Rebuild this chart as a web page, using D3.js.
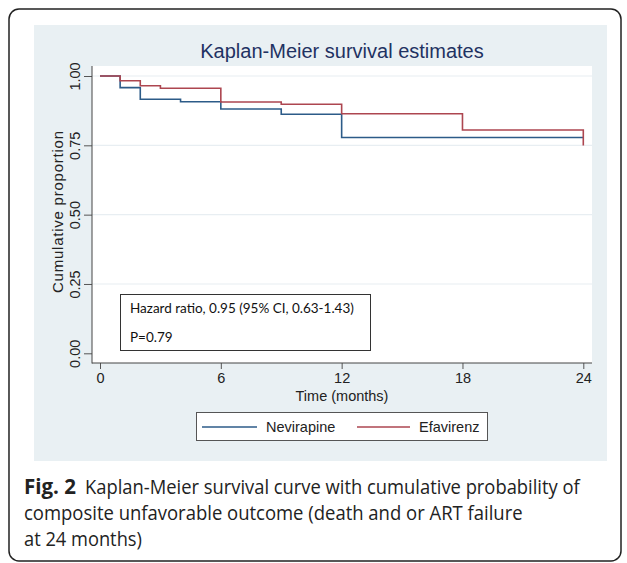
<!DOCTYPE html>
<html>
<head>
<meta charset="utf-8">
<script src="https://cdn.jsdelivr.net/npm/d3@7"></script>
<style>
  html, body { margin: 0; padding: 0; background: #ffffff; }
  svg { display: block; }
</style>
</head>
<body>
<svg id="chart" width="627" height="563"></svg>
<script>
// ---- data ----
const monthsNevirapine = [0, 1, 2, 4, 6, 9, 12, 24];
const survNevirapine   = [1.00, 0.958, 0.916, 0.907, 0.881, 0.862, 0.778, 0.778];
const monthsEfavirenz  = [0, 1, 2, 3, 6, 9, 12, 18, 24, 24];
const survEfavirenz    = [1.00, 0.983, 0.965, 0.956, 0.906, 0.898, 0.864, 0.805, 0.805, 0.749];
const seriesNames = ["Nevirapine", "Efavirenz"];
const xTicks = [0, 6, 12, 18, 24];
const yTicks = [0, 0.25, 0.50, 0.75, 1.00];
const titleText = "Kaplan-Meier survival estimates";
const xTitle = "Time (months)";
const yTitle = "Cumulative proportion";
const annotLines = ["Hazard ratio, 0.95 (95% CI, 0.63-1.43)", "P=0.79"];
const captionBold = "Fig. 2";
const captionLines = [
  "Kaplan-Meier survival curve with cumulative probability of",
  "composite unfavorable outcome (death and or ART failure",
  "at 24 months)"
];

// ---- layout ----
const svg = d3.select("#chart");
const colors = ["#2c5b88", "#ad4650"];
const plot = { left: 92, right: 592, top: 66, bottom: 363 };
const x = d3.scaleLinear().domain([0, 24]).range([100, 583.3]);
const y = d3.scaleLinear().domain([0, 1]).range([353.3, 76]);
const sans = "'Liberation Sans', Arial, sans-serif";

// helper: squeeze a text horizontally to a target width
function fitWidth(sel, x0, y0, target) {
  sel.each(function() {
    const w = this.getComputedTextLength();
    const s = Math.min(1, target / w);
    d3.select(this).attr("x", null).attr("y", null)
      .attr("transform", `translate(${x0},${y0}) scale(${s},1)`);
  });
}

// outer rounded frame
svg.append("rect").attr("x", 9).attr("y", 9).attr("width", 612).attr("height", 552)
  .attr("rx", 10).attr("fill", "#fff").attr("stroke", "#222").attr("stroke-width", 1.5);

// graph region background
svg.append("rect").attr("x", 34).attr("y", 25).attr("width", 573).attr("height", 436)
  .attr("fill", "#e9f0f3");

// plot region
svg.append("rect").attr("x", plot.left).attr("y", plot.top)
  .attr("width", plot.right - plot.left).attr("height", plot.bottom - plot.top)
  .attr("fill", "#fff");

// gridlines
svg.append("g").selectAll("line").data(yTicks.filter(d => d > 0)).join("line")
  .attr("x1", plot.left).attr("x2", plot.right)
  .attr("y1", d => y(d)).attr("y2", d => y(d))
  .attr("stroke", "#e8eef2").attr("stroke-width", 1.2);

// title
svg.append("text").attr("x", 342).attr("y", 58).attr("text-anchor", "middle")
  .attr("font-family", sans).attr("font-size", 20).attr("fill", "#1f3262")
  .text(titleText);

// axes
const xAxis = svg.append("g").attr("transform", `translate(0,${plot.bottom})`)
  .call(d3.axisBottom(x).tickValues(xTicks).tickSize(6).tickPadding(4).tickFormat(d3.format("d")));
xAxis.select(".domain").remove();
xAxis.selectAll("line").attr("stroke", "#555");
xAxis.selectAll("text").attr("font-family", sans).attr("font-size", 14.5).attr("fill", "#222");

const yAxis = svg.append("g").attr("transform", `translate(${plot.left},0)`)
  .call(d3.axisLeft(y).tickValues(yTicks).tickSize(8).tickFormat(d3.format(".2f")));
yAxis.select(".domain").remove();
yAxis.selectAll("line").attr("stroke", "#555");
yAxis.selectAll("text")
  .attr("font-family", sans).attr("font-size", 14.5).attr("fill", "#222")
  .attr("x", null).attr("dy", null)
  .attr("text-anchor", "middle")
  .attr("transform", "translate(-12,0) rotate(-90)");

// axis lines
svg.append("line").attr("x1", plot.left).attr("x2", plot.left).attr("y1", plot.top).attr("y2", plot.bottom + 0.5)
  .attr("stroke", "#444").attr("stroke-width", 1);
svg.append("line").attr("x1", plot.left).attr("x2", plot.right).attr("y1", plot.bottom).attr("y2", plot.bottom)
  .attr("stroke", "#444").attr("stroke-width", 1);

// axis titles
svg.append("text").attr("x", 342).attr("y", 401).attr("text-anchor", "middle")
  .attr("font-family", sans).attr("font-size", 14.5).attr("fill", "#222").text(xTitle);
svg.append("text").attr("transform", "translate(63,212) rotate(-90)").attr("text-anchor", "middle")
  .attr("font-family", sans).attr("font-size", 15).attr("fill", "#222")
  .attr("textLength", 162).attr("lengthAdjust", "spacing").text(yTitle);

// survival curves
const line = d3.line().x(d => x(d[0])).y(d => y(d[1])).curve(d3.curveStepAfter);
const series = [
  d3.zip(monthsNevirapine, survNevirapine),
  d3.zip(monthsEfavirenz, survEfavirenz)
];
svg.append("g").selectAll("path").data(series).join("path")
  .attr("d", line).attr("fill", "none")
  .attr("stroke", (d, i) => colors[i]).attr("stroke-width", 1.6);

// annotation box
svg.append("rect").attr("x", 120.5).attr("y", 294.5).attr("width", 250).attr("height", 56)
  .attr("fill", "#fff").attr("stroke", "#333").attr("stroke-width", 1);
const annot = svg.append("g").selectAll("text").data(annotLines).join("text")
  .attr("font-family", "Lato, 'Open Sans', sans-serif").attr("font-size", 13.5).attr("fill", "#111")
  .text(d => d);
fitWidth(annot.filter((d, i) => i === 0), 130, 313, 224);
annot.filter((d, i) => i === 1).attr("x", 130).attr("y", 342);

// legend
svg.append("rect").attr("x", 196.5).attr("y", 412.5).attr("width", 291).attr("height", 28)
  .attr("fill", "#fff").attr("stroke", "#555").attr("stroke-width", 1);
const legX = [[202, 257, 266], [357, 410, 419]];
const leg = svg.append("g").selectAll("g").data(seriesNames).join("g");
leg.append("line").attr("x1", (d, i) => legX[i][0]).attr("x2", (d, i) => legX[i][1])
  .attr("y1", 427).attr("y2", 427).attr("stroke", (d, i) => colors[i]).attr("stroke-width", 1.6);
leg.append("text").attr("x", (d, i) => legX[i][2]).attr("y", 432)
  .attr("font-family", sans).attr("font-size", 14.5).attr("fill", "#222").text(d => d);

// caption
const capFont = "'Open Sans', 'Noto Sans', sans-serif";
const bold = svg.append("text").attr("font-family", capFont)
  .attr("font-weight", "bold").attr("font-size", 20.5).attr("fill", "#222").text(captionBold);
fitWidth(bold, 24, 494, 57);
const capW = [495, 499, 118];
const capX = [85, 24, 24];
svg.append("g").selectAll("text").data(captionLines).join("text")
  .attr("font-family", capFont).attr("font-size", 20.5).attr("fill", "#222")
  .text(d => d)
  .each(function(d, i) { fitWidth(d3.select(this), capX[i], 494 + i * 26, capW[i]); });
</script>
</body>
</html>
